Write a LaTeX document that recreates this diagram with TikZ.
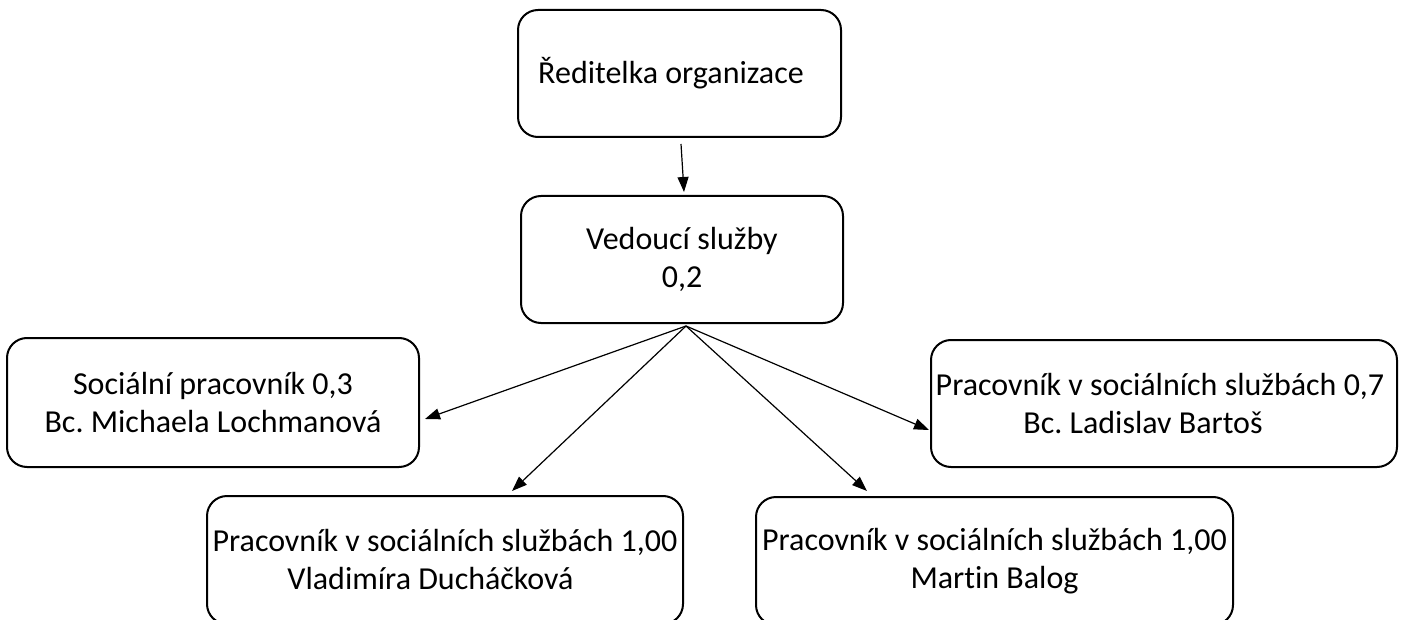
\documentclass[tikz,border=0pt]{standalone}
\usepackage{fontspec}
\setmainfont{Carlito}[Ligatures=NoCommon]
\usetikzlibrary{arrows.meta}
\frenchspacing
\begin{document}
\begin{tikzpicture}[x=1pt,y=-1pt,
  box/.style={draw, line width=2pt, rounded corners=20pt, inner sep=0pt,
    font=\fontsize{32}{38}\selectfont, align=center},
  conn/.style={line width=1.2pt, -{Triangle[length=15pt,width=11pt]}}]
\useasboundingbox (0,0) rectangle (1402,620);
\clip (0,0) rectangle (1402,620);
\node[box, minimum width=323pt, minimum height=127pt] (dir) at (679.5,73.5)
  {Ředitelka organizace\rule{17pt}{0pt}};
\node[box, minimum width=322pt, minimum height=127pt] (svc) at (682,259.5)
  {Vedoucí služby\\0,2};
\node[box, minimum width=412pt, minimum height=129pt] (soc) at (213,402.5)
  {Sociální pracovník 0,3\\Bc. Michaela Lochmanová};
\node[box, minimum width=466pt, minimum height=127pt] (lad) at (1164,403.5)
  {Pracovník v sociálních službách 0,7\rule{8pt}{0pt}\\Bc. Ladislav Bartoš\rule{42pt}{0pt}};
\node[box, minimum width=476pt, minimum height=128pt] (vla) at (445,560)
  {Pracovník v sociálních službách 1,00\\Vladimíra Ducháčková\rule{29pt}{0pt}};
\node[box, minimum width=477pt, minimum height=128pt] (mar) at (994.5,561)
  {Pracovník v sociálních službách 1,00\\Martin Balog};
\draw[conn] ([shift={(1.5pt,-6pt)}]dir.south) -- ([shift={(2pt,3pt)}]svc.north);
\draw[conn] ([shift={(4pt,-2pt)}]svc.south) -- ([shift={(5pt,-16.5pt)}]soc.east);
\draw[conn] ([shift={(4pt,-2pt)}]svc.south) -- ([shift={(-1pt,-26.5pt)}]lad.west);
\draw[conn] ([shift={(4pt,-2pt)}]svc.south) -- ([shift={(67pt,4pt)}]vla.north);
\draw[conn] ([shift={(4pt,-2pt)}]svc.south) -- ([shift={(-127.5pt,5pt)}]mar.north);
\end{tikzpicture}
\end{document}
